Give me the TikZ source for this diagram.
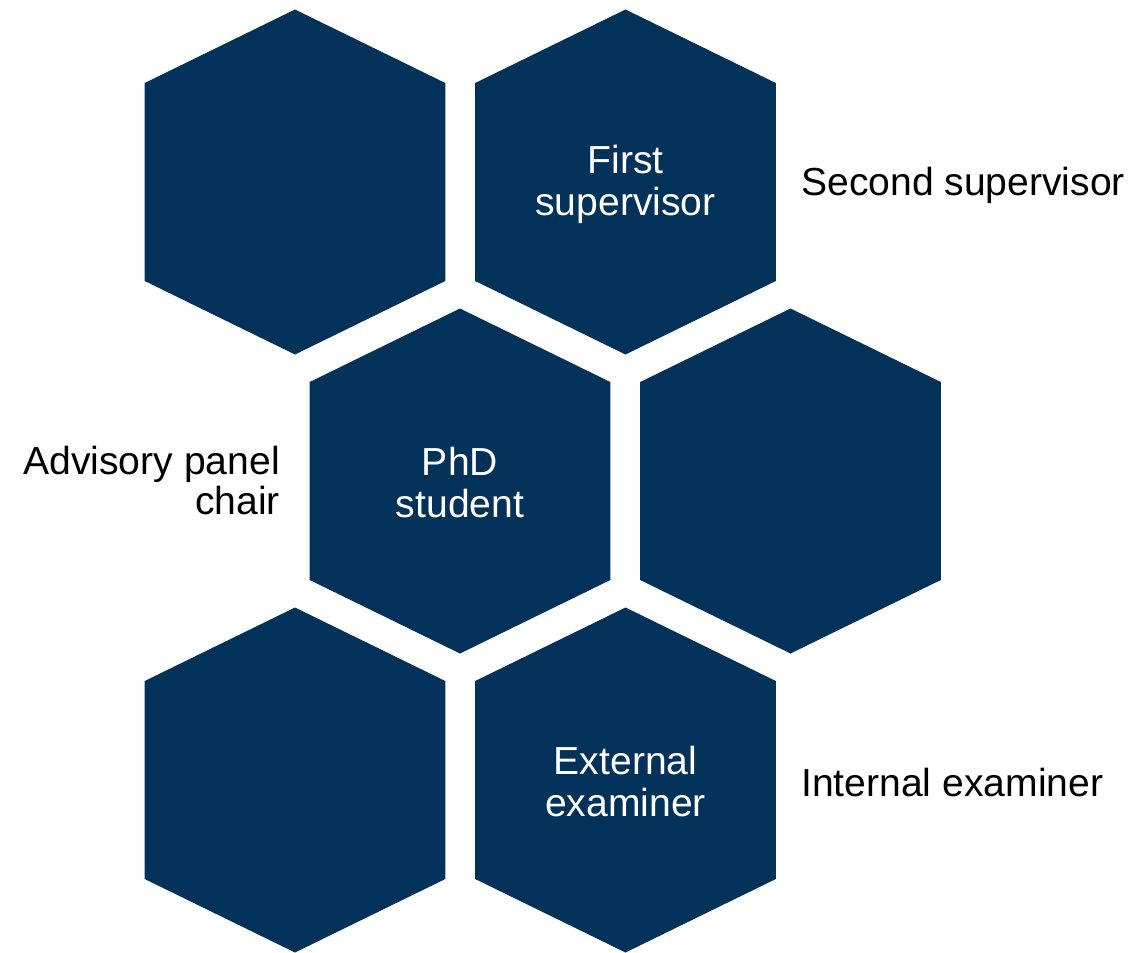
\documentclass[tikz,border=0pt]{standalone}
\usepackage{fontspec}
\setmainfont{Liberation Sans}
\definecolor{navy}{RGB}{2,50,90}
\newcommand\hexat[3]{\fill[hexfill] (#2,#3) ++(0,-172.5) -- ++(150.3,73.5) -- ++(0,198) -- ++(-150.3,73.5) -- ++(-150.3,-73.5) -- ++(0,-198) -- cycle;
  \coordinate (#1) at (#2,#3);}
\begin{document}
\begin{tikzpicture}[x=1pt,y=-1pt,
  hexfill/.style={fill=navy},
  intext/.style={text=white, align=center, inner sep=0pt, font=\fontsize{39.1}{42}\selectfont},
  outtext/.style={text=black, inner sep=0pt, font=\fontsize{39.1}{40}\selectfont}]
\useasboundingbox (0,0) rectangle (1139,952);
\hexat{h1}{295}{182}
\hexat{h2}{625.5}{182}
\hexat{h3}{460}{481}
\hexat{h4}{790.5}{481}
\hexat{h5}{295}{780}
\hexat{h6}{625.5}{780}
\node[intext] (first) at ([yshift=-2]h2) {First\\supervisor};
\node[intext] (phd) at ([yshift=-2]h3) {PhD\\student};
\node[intext] (ext) at ([yshift=-2]h6) {External\\examiner};
\node[outtext, anchor=west] (second) at (801,185) {Second supervisor};
\node[outtext, anchor=west] (internal) at (801,783) {Internal examiner};
\node[outtext, align=right, anchor=east] (chair) at (280,481) {Advisory panel\\chair};
\end{tikzpicture}
\end{document}
